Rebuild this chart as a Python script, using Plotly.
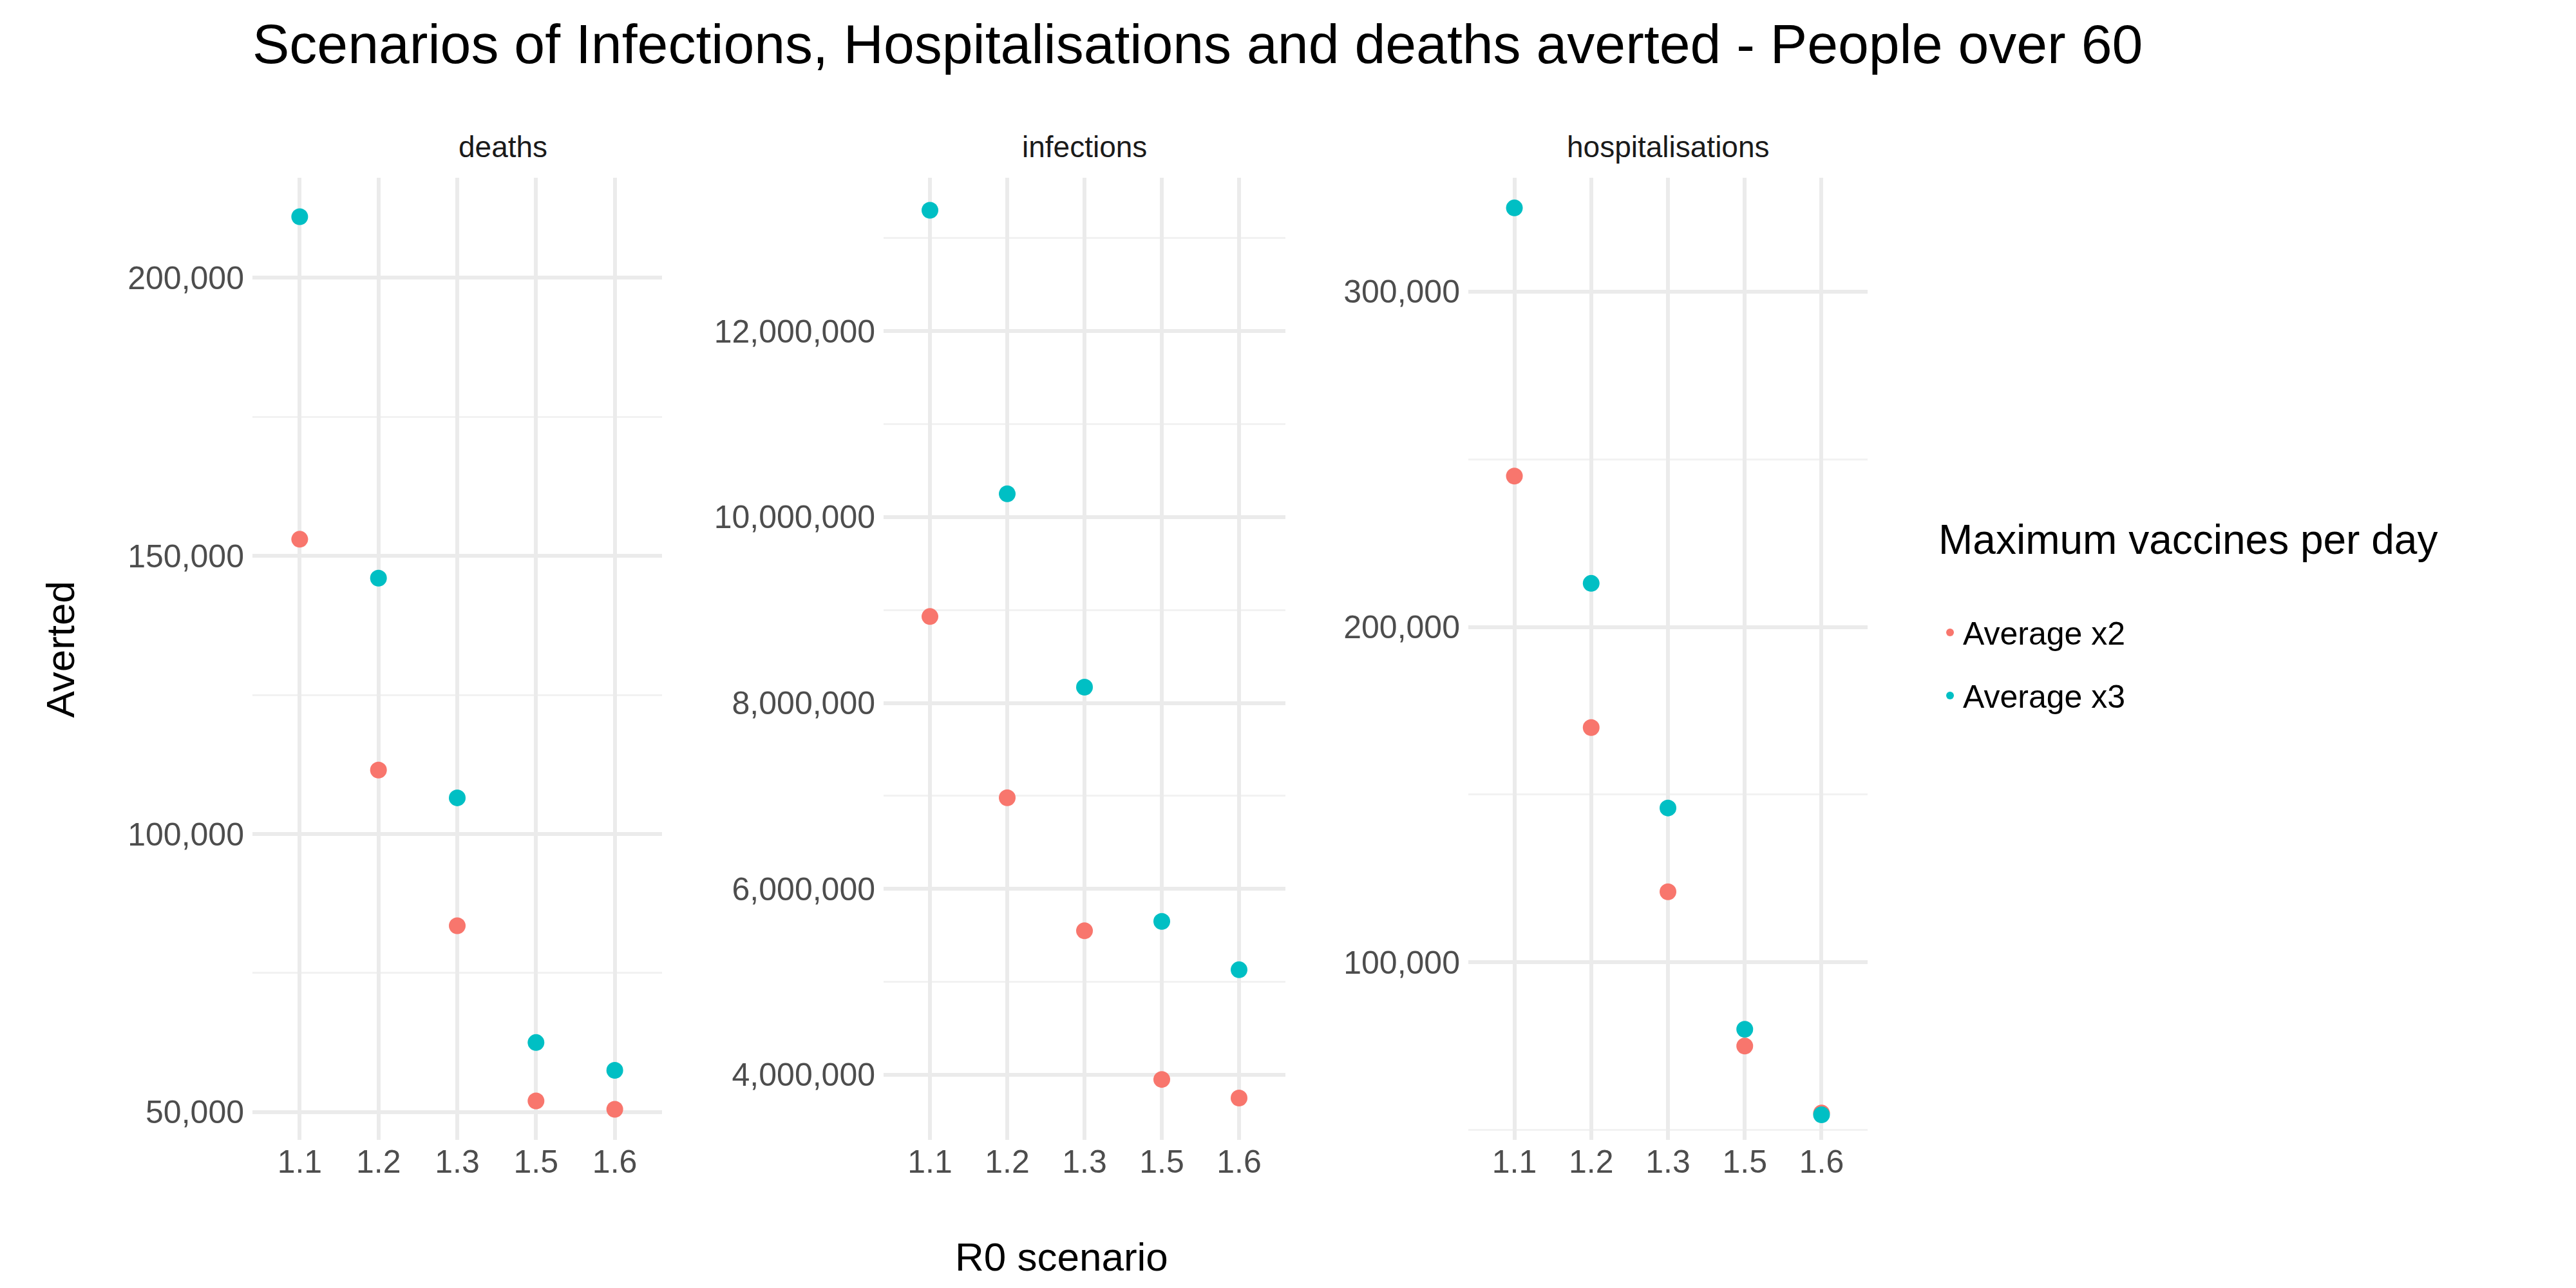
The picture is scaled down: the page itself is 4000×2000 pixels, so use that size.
import plotly.graph_objects as go

# 数据
r0 = ["1.1", "1.2", "1.3", "1.5", "1.6"]
deaths_x2 = [153000, 111500, 83500, 52000, 50500]
deaths_x3 = [211000, 146000, 106500, 62500, 57500]
infections_x2 = [8930000, 6980000, 5550000, 3950000, 3750000]
infections_x3 = [13300000, 10250000, 8170000, 5650000, 5130000]
hosp_x2 = [245000, 170000, 121000, 75000, 55000]
hosp_x3 = [325000, 213000, 146000, 80000, 54500]

red = "#F8766D"
teal = "#00BFC4"

panels = [
	("deaths", deaths_x2, deaths_x3, (0.096, 0.255), [45000, 218000], 50000),
	("infections", infections_x2, infections_x3, (0.341, 0.497), [3300000, 13650000], 2000000),
	("hospitalisations", hosp_x2, hosp_x3, (0.568, 0.723), [47000, 334000], 100000),
]

fig = go.Figure()
layout = {}
ann = []
for i, (name, v2, v3, dom, yr, dt) in enumerate(panels):
	n = "" if i == 0 else str(i + 1)
	fig.add_trace(go.Scatter(x=r0, y=v2, mode="markers", name="Average x2",
							 marker=dict(color=red, size=26), xaxis="x" + n, yaxis="y" + n,
							 showlegend=(i == 0), legendgroup="a"))
	fig.add_trace(go.Scatter(x=r0, y=v3, mode="markers", name="Average x3",
							 marker=dict(color=teal, size=26), xaxis="x" + n, yaxis="y" + n,
							 showlegend=(i == 0), legendgroup="b"))
	layout["xaxis" + n] = dict(domain=list(dom), anchor="y" + n, type="category",
							   showgrid=True, gridcolor="#EBEBEB", gridwidth=6,
							   tickfont=dict(size=50, color="#4D4D4D"), ticks="", zeroline=False,
							   range=[-0.6, 4.6])
	layout["yaxis" + n] = dict(domain=[0.119, 0.866], anchor="x" + n, range=yr, dtick=dt,
							   tickformat=",", showgrid=True, gridcolor="#EBEBEB", gridwidth=6,
							   minor=dict(dtick=dt / 2, showgrid=True, gridcolor="#F2F2F2", gridwidth=3),
							   tickfont=dict(size=50, color="#4D4D4D"), zeroline=False, ticks="",
							   ticklabelstandoff=12)
	ann.append(dict(text=name, x=(dom[0] + dom[1]) / 2, y=0.89, xref="paper", yref="paper",
					showarrow=False, font=dict(size=46, color="#1A1A1A"), yanchor="middle"))

ann.append(dict(text="R0 scenario", x=0.41, y=0.01, xref="paper", yref="paper", showarrow=False,
				font=dict(size=62, color="black"), yanchor="bottom"))
ann.append(dict(text="Averted", x=0.012, y=0.5, xref="paper", yref="paper", showarrow=False,
				textangle=-90, font=dict(size=62, color="black")))

fig.update_layout(
	**layout,
	annotations=ann,
	width=4000, height=2000,
	plot_bgcolor="white", paper_bgcolor="white",
	font=dict(family="Liberation Sans, Arial, sans-serif"),
	title=dict(text="Scenarios of Infections, Hospitalisations and deaths averted - People over 60",
			   x=0.096, xanchor="left", y=0.985, yanchor="top", font=dict(size=86, color="black")),
	margin=dict(l=0, r=0, t=0, b=0),
	legend=dict(x=0.75, y=0.53, xanchor="left", yanchor="middle",
				title=dict(text="Maximum vaccines per day<br>", font=dict(size=64, color="black")),
				font=dict(size=50, color="black"), itemsizing="constant", tracegroupgap=30),
)

fig.write_html("out.html")
